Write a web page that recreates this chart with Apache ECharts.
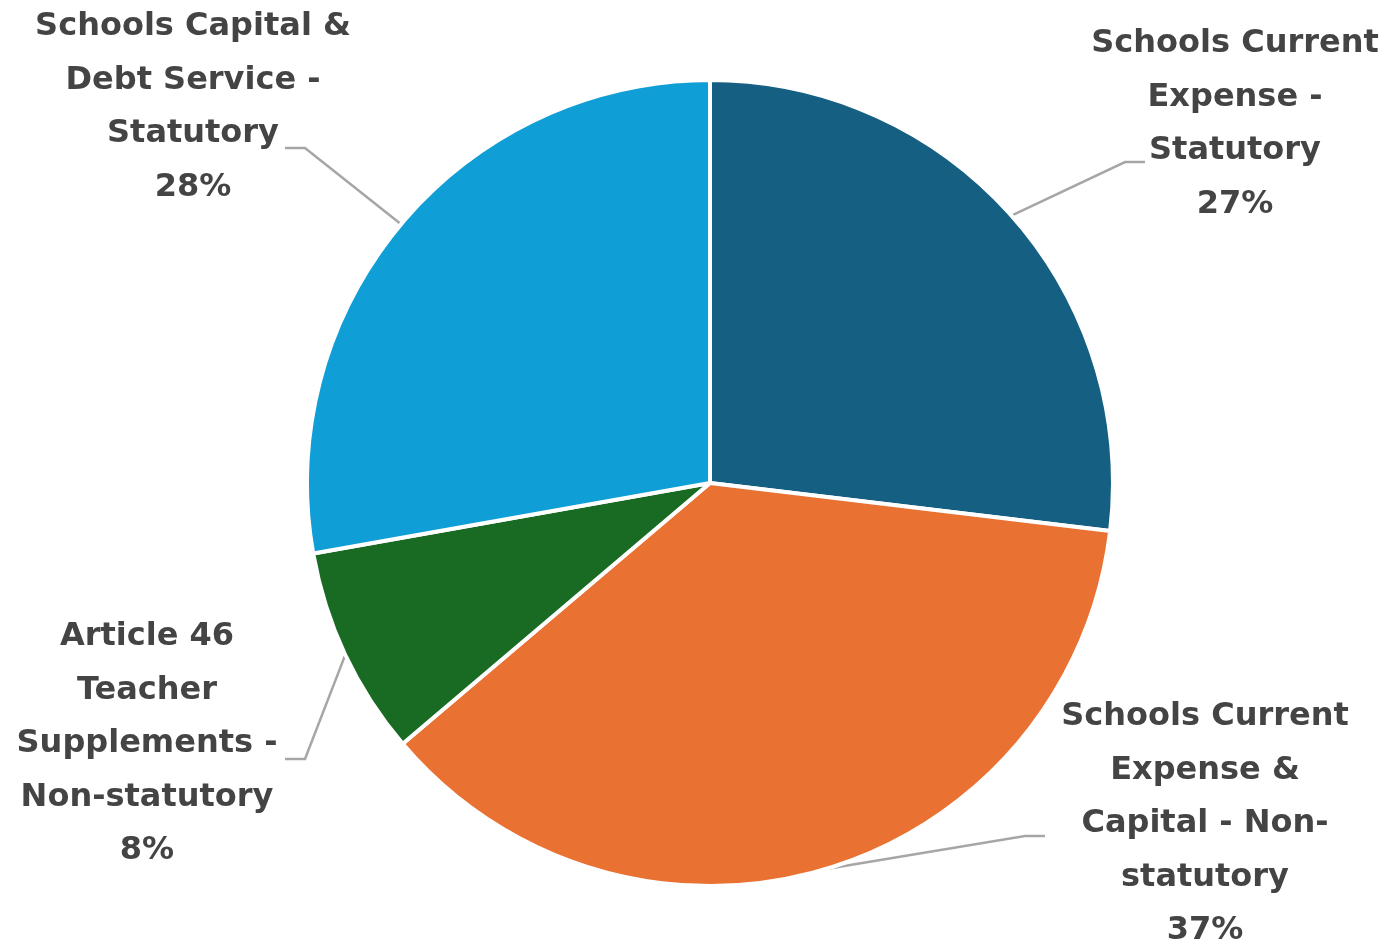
<!DOCTYPE html>
<html>
<head>
<meta charset="utf-8">
<script src="https://cdn.jsdelivr.net/npm/echarts@6/dist/echarts.min.js"></script>
<style>
html,body{margin:0;padding:0;background:#fff;}
#chart{width:1386px;height:945px;}
</style>
</head>
<body>
<div id="chart"></div>
<script>
const categories = [
  "Schools Current Expense - Statutory",
  "Schools Current Expense & Capital - Non-statutory",
  "Article 46 Teacher Supplements - Non-statutory",
  "Schools Capital & Debt Service - Statutory"
];
const labelTexts = [
  "Schools Current\nExpense -\nStatutory",
  "Schools Current\nExpense &\nCapital - Non-\nstatutory",
  "Article 46\nTeacher\nSupplements -\nNon-statutory",
  "Schools Capital &\nDebt Service -\nStatutory"
];
const values = [26.9, 36.9, 8.4, 27.8];
const colors = ["#156082", "#E97132", "#196B24", "#0F9ED5"];

// label layout config: label block centre, and leader-line end offset from it
const labelLayoutCfg = [
  { c: [1235, 124], end: [-90, 38] },
  { c: [1205, 824], end: [-160, 12] },
  { c: [147, 744], end: [138, 15] },
  { c: [193, 107], end: [92, 41] }
];

const chart = echarts.init(document.getElementById('chart'));
chart.setOption({
  animation: false,
  series: [{
    type: 'pie',
    center: [710, 483],
    radius: 403,
    startAngle: 90,
    clockwise: true,
    percentPrecision: 0,
    data: categories.map((c, i) => ({
      name: c,
      value: values[i],
      itemStyle: { color: colors[i] },
      label: { formatter: labelTexts[i] + "\n{d}%" }
    })),
    itemStyle: { borderColor: '#ffffff', borderWidth: 4 },
    label: {
      show: true,
      position: 'outside',
      fontFamily: 'DejaVu Sans',
      fontWeight: 'bold',
      fontSize: 32,
      lineHeight: 53.5,
      color: '#444444',
      align: 'center'
    },
    labelLine: {
      show: true,
      length: 40,
      length2: 20,
      lineStyle: { color: '#A6A6A6', width: 2.5 }
    },
    labelLayout: function (p) {
      const cfg = labelLayoutCfg[p.dataIndex];
      const start = p.labelLinePoints ? p.labelLinePoints[0] : null;
      const out = { x: cfg.c[0], y: cfg.c[1], align: 'center', verticalAlign: 'middle' };
      if (start) {
        const end = [cfg.c[0] + cfg.end[0], cfg.c[1] + cfg.end[1]];
        const dir = cfg.end[0] < 0 ? -1 : 1;
        const mid = [end[0] + dir * 20, end[1]];
        out.labelLinePoints = [start, mid, end];
      }
      return out;
    }
  }]
});
</script>
</body>
</html>
